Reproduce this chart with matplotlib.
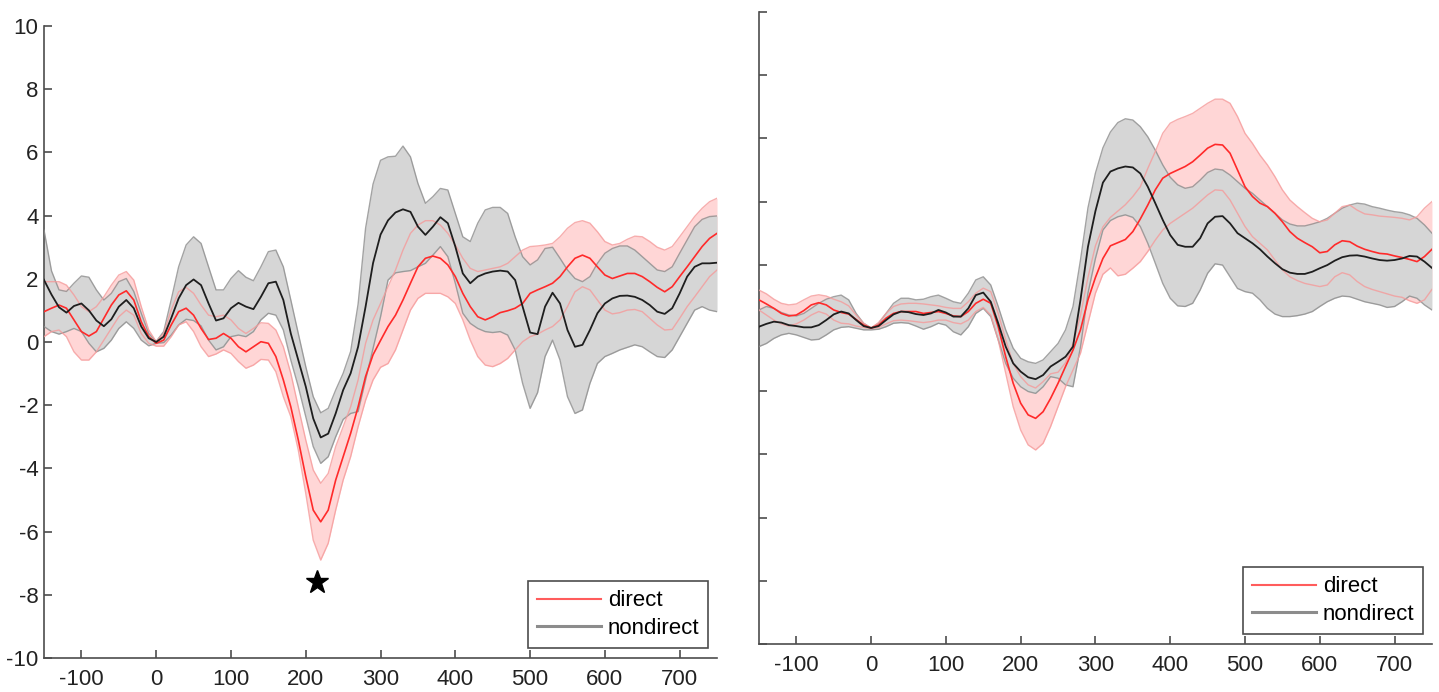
import numpy as np
import matplotlib
matplotlib.use("Agg")
import matplotlib.pyplot as plt

plt.rcParams['font.family'] = ['Liberation Sans', 'DejaVu Sans']
plt.rcParams['axes.unicode_minus'] = False

# time axis (ms), one value every 10 ms from -150 to 750
t = np.arange(-150, 751, 10)

# ---------------- left panel ----------------
L_nd_mean = [1.96, 1.5, 1.1, 0.93, 1.14, 1.22, 1.0, 0.68, 0.5, 0.72,
             1.12, 1.33, 1.07, 0.49, 0.12, 0.0, 0.17, 0.75, 1.38, 1.8,
             1.98, 1.8, 1.22, 0.68, 0.75, 1.07, 1.24, 1.12, 1.04, 1.43,
             1.86, 1.91, 1.33, 0.27, -0.57, -1.41, -2.42, -3.02, -2.9, -2.26,
             -1.52, -0.99, -0.15, 1.12, 2.5, 3.4, 3.85, 4.1, 4.2, 4.12,
             3.65, 3.39, 3.65, 3.95, 3.76, 3.02, 2.17, 1.86, 2.07, 2.17,
             2.23, 2.26, 2.23, 1.96, 1.12, 0.3, 0.25, 1.12, 1.56, 1.22,
             0.38, -0.15, -0.09, 0.38, 0.91, 1.22, 1.38, 1.46, 1.47, 1.43,
             1.33, 1.17, 0.96, 0.89, 1.07, 1.54, 2.07, 2.38, 2.49, 2.49,
             2.51]
L_nd_hi = [3.54, 2.25, 1.65, 1.6, 1.86, 2.09, 2.05, 1.65, 1.33, 1.54,
           1.91, 2.01, 1.6, 0.91, 0.27, 0.02, 0.33, 1.33, 2.38, 3.07,
           3.33, 3.12, 2.38, 1.65, 1.65, 2.01, 2.26, 2.05, 1.94, 2.38,
           2.86, 2.91, 2.38, 1.33, 0.27, -0.78, -1.73, -2.24, -2.1, -1.52,
           -0.99, -0.3, 1.2, 3.6, 5.0, 5.75, 5.86, 5.88, 6.2, 5.86,
           5.02, 4.39, 4.6, 4.86, 4.81, 4.07, 3.33, 3.18, 3.76, 4.18,
           4.26, 4.26, 4.07, 3.33, 2.7, 2.44, 2.6, 2.96, 3.0, 2.65,
           2.28, 2.01, 1.91, 2.07, 2.49, 2.81, 2.96, 3.04, 3.04, 2.91,
           2.7, 2.49, 2.28, 2.23, 2.38, 2.81, 3.23, 3.65, 3.88, 3.97,
           3.99]
L_nd_lo = [0.49, 0.33, 0.25, 0.33, 0.43, 0.33, -0.04, -0.31, -0.2, 0.06,
           0.43, 0.64, 0.43, 0.06, -0.12, -0.04, -0.02, 0.22, 0.54, 0.72,
           0.68, 0.51, 0.06, -0.25, -0.15, 0.17, 0.22, 0.17, 0.33, 0.7,
           0.91, 0.85, 0.38, -0.57, -1.41, -2.36, -3.31, -3.84, -3.63, -3.0,
           -2.45, -2.26, -2.2, -1.2, -0.2, 0.8, 1.96, 2.19, 2.23, 2.26,
           2.38, 2.49, 2.75, 3.02, 2.7, 1.86, 0.91, 0.59, 0.43, 0.33,
           0.3, 0.33, 0.22, -0.25, -1.31, -2.1, -1.6, -0.46, 0.06, -0.57,
           -1.73, -2.26, -2.15, -1.31, -0.68, -0.46, -0.36, -0.25, -0.17, -0.09,
           -0.15, -0.31, -0.46, -0.49, -0.25, 0.17, 0.59, 1.01, 1.12, 1.01,
           0.96]
L_d_mean = [0.96, 1.07, 1.17, 1.07, 0.7, 0.33, 0.19, 0.33, 0.75, 1.17,
            1.49, 1.62, 1.33, 0.64, 0.17, -0.04, 0.06, 0.54, 0.96, 1.07,
            0.85, 0.43, 0.08, 0.12, 0.27, 0.12, -0.15, -0.31, -0.15, 0.01,
            -0.04, -0.46, -1.2, -2.05, -3.1, -4.26, -5.32, -5.69, -5.32, -4.37,
            -3.63, -2.89, -2.05, -1.09, -0.4, 0.05, 0.49, 0.85, 1.33, 1.86,
            2.38, 2.65, 2.72, 2.65, 2.44, 2.07, 1.54, 1.12, 0.8, 0.7,
            0.8, 0.93, 0.99, 1.07, 1.22, 1.54, 1.65, 1.75, 1.86, 2.07,
            2.38, 2.65, 2.75, 2.65, 2.38, 2.12, 2.01, 2.09, 2.17, 2.17,
            2.07, 1.91, 1.73, 1.59, 1.75, 2.07, 2.38, 2.7, 3.02, 3.28,
            3.44]
L_d_hi = [1.91, 1.91, 1.91, 1.8, 1.49, 1.12, 0.96, 1.12, 1.43, 1.8,
          2.12, 2.23, 1.96, 1.12, 0.38, 0.01, 0.27, 1.01, 1.59, 1.73,
          1.54, 1.17, 0.85, 0.8, 0.85, 0.7, 0.43, 0.27, 0.43, 0.61,
          0.59, 0.38, -0.15, -0.99, -2.05, -3.1, -4.05, -4.47, -4.16, -3.31,
          -2.68, -2.05, -1.2, -0.04, 0.7, 1.22, 1.75, 2.28, 2.91, 3.44,
          3.7, 3.84, 3.84, 3.7, 3.44, 3.07, 2.65, 2.33, 2.23, 2.28,
          2.33, 2.38, 2.49, 2.7, 2.91, 3.02, 3.04, 3.07, 3.12, 3.33,
          3.6, 3.78, 3.84, 3.76, 3.49, 3.18, 3.07, 3.12, 3.25, 3.35,
          3.33, 3.18, 3.0, 2.91, 3.02, 3.33, 3.65, 3.97, 4.23, 4.44,
          4.55]
L_d_lo = [0.17, 0.33, 0.38, 0.17, -0.31, -0.57, -0.57, -0.31, 0.06, 0.43,
          0.8, 1.01, 0.85, 0.27, -0.04, -0.13, -0.13, 0.17, 0.54, 0.64,
          0.33, -0.15, -0.46, -0.38, -0.25, -0.36, -0.62, -0.83, -0.73, -0.55,
          -0.57, -0.94, -1.73, -2.36, -3.42, -4.79, -6.27, -6.9, -6.37, -5.32,
          -4.37, -3.63, -2.68, -1.84, -1.2, -0.8, -0.68, -0.25, 0.38, 1.01,
          1.38, 1.54, 1.54, 1.54, 1.43, 1.22, 0.7, 0.06, -0.46, -0.73,
          -0.78, -0.68, -0.52, -0.25, 0.01, 0.17, 0.25, 0.38, 0.49, 0.7,
          1.12, 1.59, 1.75, 1.65, 1.33, 1.01, 0.89, 0.93, 1.01, 1.03,
          0.96, 0.75, 0.54, 0.38, 0.4, 0.75, 1.12, 1.43, 1.75, 2.07,
          2.28]

# ---------------- right panel ----------------
R_nd_mean = [0.04, 0.13, 0.2, 0.17, 0.09, 0.06, 0.02, 0.02, 0.09, 0.25,
             0.43, 0.52, 0.46, 0.25, 0.06, 0.0, 0.06, 0.25, 0.43, 0.52,
             0.5, 0.44, 0.41, 0.46, 0.57, 0.49, 0.36, 0.36, 0.62, 1.04,
             1.12, 0.83, 0.15, -0.59, -1.12, -1.38, -1.56, -1.62, -1.49, -1.22,
             -1.07, -0.91, -0.59, 0.89, 2.57, 3.7, 4.6, 4.95, 5.05, 5.11,
             5.08, 4.89, 4.47, 3.95, 3.42, 2.94, 2.63, 2.57, 2.57, 2.84,
             3.31, 3.52, 3.54, 3.31, 3.0, 2.84, 2.68, 2.49, 2.26, 2.05,
             1.86, 1.75, 1.71, 1.71, 1.78, 1.89, 1.99, 2.13, 2.24, 2.29,
             2.3, 2.26, 2.2, 2.15, 2.13, 2.15, 2.2, 2.28, 2.26, 2.1,
             1.9]
R_nd_hi = [0.57, 0.68, 0.62, 0.49, 0.41, 0.38, 0.46, 0.62, 0.78, 0.91,
           0.99, 1.04, 0.89, 0.46, 0.15, 0.0, 0.15, 0.46, 0.78, 0.94,
           0.94, 0.89, 0.91, 0.99, 1.04, 0.94, 0.83, 0.78, 1.1, 1.52,
           1.62, 1.36, 0.68, -0.06, -0.64, -0.96, -1.07, -1.12, -1.01, -0.75,
           -0.49, -0.06, 0.68, 2.15, 3.8, 4.9, 5.7, 6.2, 6.5, 6.62,
           6.58, 6.37, 6.05, 5.63, 5.16, 4.77, 4.53, 4.42, 4.47, 4.68,
           4.92, 5.03, 5.0, 4.84, 4.63, 4.42, 4.26, 4.05, 3.84, 3.63,
           3.42, 3.29, 3.23, 3.23, 3.29, 3.36, 3.47, 3.63, 3.79, 3.89,
           3.95, 3.92, 3.84, 3.79, 3.73, 3.68, 3.65, 3.58, 3.47, 3.26,
           3.0]
R_nd_lo = [-0.59, -0.49, -0.33, -0.22, -0.17, -0.22, -0.3, -0.38, -0.36, -0.22,
           -0.06, 0.02, 0.04, -0.01, -0.06, -0.06, -0.04, 0.04, 0.15, 0.17,
           0.15, 0.06, -0.04, 0.04, 0.15, 0.09, -0.12, -0.22, 0.04, 0.46,
           0.62, 0.36, -0.38, -1.12, -1.59, -1.86, -2.01, -2.07, -1.86, -1.54,
           -1.59, -1.8, -1.86, -0.6, 1.1, 2.2, 3.1, 3.4, 3.52, 3.58,
           3.5, 3.21, 2.68, 2.05, 1.41, 0.94, 0.7, 0.68, 0.78, 1.2,
           1.73, 2.03, 1.99, 1.62, 1.25, 1.15, 1.1, 0.89, 0.62, 0.44,
           0.36, 0.36, 0.39, 0.44, 0.52, 0.68, 0.83, 0.94, 1.01, 0.99,
           0.91, 0.83, 0.78, 0.73, 0.65, 0.68, 0.83, 1.01, 0.94, 0.73,
           0.57]
R_d_mean = [0.89, 0.76, 0.62, 0.46, 0.38, 0.41, 0.55, 0.73, 0.8, 0.73,
            0.57, 0.49, 0.44, 0.27, 0.09, 0.0, 0.09, 0.31, 0.46, 0.52,
            0.52, 0.52, 0.46, 0.49, 0.52, 0.46, 0.38, 0.36, 0.52, 0.78,
            0.91, 0.78, 0.04, -0.91, -1.75, -2.38, -2.75, -2.86, -2.65, -2.23,
            -1.75, -1.22, -0.7, -0.06, 0.89, 1.6, 2.2, 2.6, 2.7, 2.8,
            3.05, 3.45, 3.89, 4.37, 4.74, 4.89, 5.0, 5.11, 5.26, 5.47,
            5.69, 5.81, 5.79, 5.53, 5.0, 4.47, 4.16, 3.95, 3.84, 3.63,
            3.36, 3.05, 2.84, 2.7, 2.57, 2.38, 2.42, 2.63, 2.76, 2.73,
            2.59, 2.49, 2.42, 2.36, 2.34, 2.28, 2.23, 2.17, 2.1, 2.26,
            2.49]
R_d_hi = [1.2, 1.08, 0.91, 0.78, 0.73, 0.76, 0.89, 1.01, 1.05, 1.01,
          0.91, 0.83, 0.7, 0.41, 0.15, 0.0, 0.17, 0.46, 0.68, 0.76,
          0.78, 0.78, 0.76, 0.73, 0.7, 0.65, 0.62, 0.62, 0.83, 1.1,
          1.26, 1.15, 0.46, -0.38, -1.12, -1.54, -1.8, -1.9, -1.7, -1.45,
          -1.4, -1.1, -0.5, 0.4, 1.6, 2.6, 3.2, 3.5, 3.7, 3.9,
          4.16, 4.47, 5.05, 5.58, 6.16, 6.48, 6.6, 6.69, 6.79, 6.95,
          7.11, 7.24, 7.24, 7.11, 6.69, 6.16, 5.84, 5.47, 5.16, 4.79,
          4.37, 4.05, 3.84, 3.65, 3.47, 3.36, 3.42, 3.63, 3.84, 3.89,
          3.73, 3.61, 3.58, 3.54, 3.52, 3.5, 3.47, 3.42, 3.52, 3.79,
          4.0]
R_d_lo = [0.57, 0.41, 0.25, 0.13, 0.06, 0.13, 0.25, 0.41, 0.52, 0.44,
          0.25, 0.15, 0.13, 0.06, 0.02, -0.02, 0.02, 0.13, 0.23, 0.25,
          0.23, 0.2, 0.17, 0.2, 0.25, 0.25, 0.17, 0.13, 0.25, 0.52,
          0.65, 0.41, -0.38, -1.43, -2.49, -3.23, -3.7, -3.86, -3.65, -3.12,
          -2.49, -1.86, -1.33, -0.8, 0.15, 1.1, 1.7, 1.9, 1.65, 1.7,
          1.89, 2.1, 2.42, 2.78, 3.1, 3.31, 3.47, 3.63, 3.79, 4.0,
          4.21, 4.37, 4.35, 4.05, 3.63, 3.21, 2.89, 2.68, 2.47, 2.15,
          1.84, 1.62, 1.5, 1.41, 1.36, 1.31, 1.36, 1.62, 1.75, 1.68,
          1.47, 1.31, 1.22, 1.15, 1.08, 1.01, 0.97, 0.86, 0.78, 0.89,
          1.22]

labels = ["direct", "nondirect"]
xticks = [-100, 0, 100, 200, 300, 400, 500, 600, 700]
yticks = [-10, -8, -6, -4, -2, 0, 2, 4, 6, 8, 10]
star_x, star_y = 215, -7.6

spine_col = "#4d4d4d"


def panel(ax, d_mean, d_hi, d_lo, nd_mean, nd_hi, nd_lo, ylabels):
    ax.fill_between(t, d_lo, d_hi, color="#ffd6d6", lw=0, zorder=1)
    ax.fill_between(t, nd_lo, nd_hi, color="#d6d6d6", lw=0, zorder=2)
    ax.plot(t, nd_hi, color="#8c8c8c", lw=1.0, alpha=0.8, zorder=3)
    ax.plot(t, nd_lo, color="#8c8c8c", lw=1.0, alpha=0.8, zorder=3)
    ax.plot(t, d_hi, color="#f59a9a", lw=1.0, alpha=0.8, zorder=4)
    ax.plot(t, d_lo, color="#f59a9a", lw=1.0, alpha=0.8, zorder=4)
    ax.plot(t, d_mean, color="#ff2a2a", lw=1.2, zorder=5)
    ax.plot(t, nd_mean, color="#1e1e1e", lw=1.3, zorder=6)

    ax.set_xlim(-150, 750)
    ax.set_ylim(-10, 10)
    ax.set_xticks(xticks)
    ax.set_yticks(yticks)
    if not ylabels:
        ax.set_yticklabels([])
    for s in ["top", "right"]:
        ax.spines[s].set_visible(False)
    for s in ["left", "bottom"]:
        ax.spines[s].set_color(spine_col)
        ax.spines[s].set_linewidth(1.2)
    ax.tick_params(direction="in", length=6, width=1.2, color=spine_col,
                   labelsize=16, labelcolor="#222222")
    ax.tick_params(axis="y", pad=4)
    ax.tick_params(axis="x", pad=8)

    h1, = ax.plot([], [], color="#ff5c5c", lw=1.5)
    h2, = ax.plot([], [], color="#8c8c8c", lw=2.2)
    leg = ax.legend([h1, h2], labels, loc="lower right",
                    bbox_to_anchor=(0.987, 0.016), fontsize=16,
                    fancybox=False, framealpha=1, edgecolor=spine_col,
                    handlelength=2.9, handletextpad=0.3, borderpad=0.4,
                    labelspacing=0.3, borderaxespad=0)
    leg.get_frame().set_linewidth(1.2)


fig = plt.figure(figsize=(14.39, 6.92), dpi=100)
ax1 = fig.add_axes([0.0306, 0.0491, 0.4677, 0.9133])
ax2 = fig.add_axes([0.5274, 0.0694, 0.4677, 0.9133])

panel(ax1, L_d_mean, L_d_hi, L_d_lo, L_nd_mean, L_nd_hi, L_nd_lo, True)
panel(ax2, R_d_mean, R_d_hi, R_d_lo, R_nd_mean, R_nd_hi, R_nd_lo, False)

ax1.plot([star_x], [star_y], marker="*", color="black", markersize=17,
         linestyle="none", zorder=7)

fig.savefig("out.png", dpi=100)
